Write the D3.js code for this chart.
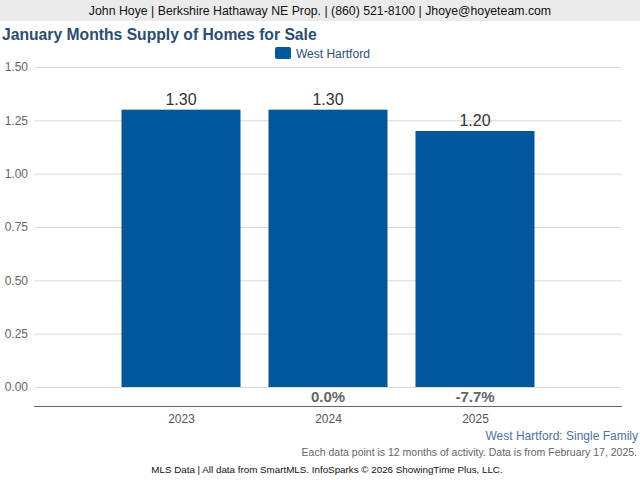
<html>
<head>
  <meta charset="UTF-8">
  <title>January Months Supply of Homes for Sale</title>
  <script src="https://cdn.jsdelivr.net/npm/d3@7"></script>
  <style>
    body { margin: 0; background: #fff; }
    text { font-family: "Liberation Sans", Arial, sans-serif; }
  </style>
</head>
<body>
<svg width="640" height="480"></svg>
<script>
var years = ["2023", "2024", "2025"];
var supply = [1.30, 1.30, 1.20];
var changes = ["", "0.0%", "-7.7%"];
var yTicks = [0, 0.25, 0.5, 0.75, 1.0, 1.25, 1.5];
var seriesName = "West Hartford";

var svg = d3.select("svg");
// note: "top" is taken by window.top, so use plotTop
var plotLeft = 34, plotRight = 622, plotTop = 67, zeroY = 387;
var barColor = "#00579c";

// header band
svg.append("rect").attr("x", 0).attr("y", 0).attr("width", 640).attr("height", 21).attr("fill", "#ebebeb");
svg.append("text").attr("x", 320).attr("y", 15).attr("text-anchor", "middle")
  .attr("font-size", 12.3).attr("fill", "#111")
  .text("John Hoye | Berkshire Hathaway NE Prop. | (860) 521-8100 | Jhoye@hoyeteam.com");

svg.append("text").attr("x", 2).attr("y", 40)
  .attr("font-size", 15.7).attr("font-weight", "bold").attr("fill", "#2a4d74")
  .text("January Months Supply of Homes for Sale");

// legend
svg.append("rect").attr("x", 275).attr("y", 47).attr("width", 16).attr("height", 12)
  .attr("rx", 2).attr("fill", barColor);
svg.append("text").attr("x", 296).attr("y", 58).attr("font-size", 12).attr("fill", "#2c4f78")
  .text(seriesName);

var y = d3.scaleLinear().domain([0, 1.5]).range([zeroY, plotTop]);
var x = d3.scalePoint().domain(years).range([plotLeft, plotRight]).padding(1);
var barW = 119;

// grid + y labels
var yAxis = svg.append("g").attr("transform", "translate(" + plotLeft + ",0)")
  .call(d3.axisLeft(y).tickValues(yTicks).tickFormat(d3.format(".2f"))
    .tickSize(-(plotRight - plotLeft)).tickPadding(6));
yAxis.select(".domain").remove();
yAxis.selectAll(".tick line").attr("stroke", "#d9d9d9");
yAxis.selectAll(".tick text").attr("font-size", 12).attr("fill", "#666")
  .attr("font-family", "Liberation Sans, Arial, sans-serif");

// bars
svg.selectAll(".bar").data(supply).enter().append("rect")
  .attr("x", function(d, i) { return x(years[i]) - barW / 2; })
  .attr("y", function(d) { return y(d); })
  .attr("width", barW)
  .attr("height", function(d) { return zeroY - y(d); })
  .attr("fill", barColor);

svg.selectAll(".val").data(supply).enter().append("text")
  .attr("x", function(d, i) { return x(years[i]); })
  .attr("y", function(d) { return y(d) - 5; })
  .attr("text-anchor", "middle").attr("font-size", 16).attr("fill", "#333")
  .text(function(d) { return d.toFixed(2); });

// x axis
var xAxis = svg.append("g").attr("transform", "translate(0,406)")
  .call(d3.axisBottom(x).tickSize(0).tickPadding(8));
xAxis.select(".domain").attr("stroke", "#666").attr("d", "M" + plotLeft + ",0.5H" + plotRight);
xAxis.selectAll(".tick text").attr("font-size", 12).attr("fill", "#555")
  .attr("font-family", "Liberation Sans, Arial, sans-serif");

svg.selectAll(".chg").data(changes).enter().append("text")
  .attr("x", function(d, i) { return x(years[i]); })
  .attr("y", 402)
  .attr("text-anchor", "middle").attr("font-size", 15).attr("font-weight", "bold").attr("fill", "#666")
  .text(function(d) { return d; });

// footer
svg.append("text").attr("x", 638).attr("y", 440).attr("text-anchor", "end")
  .attr("font-size", 12).attr("fill", "#4a72a6").text("West Hartford: Single Family");
svg.append("text").attr("x", 637).attr("y", 456).attr("text-anchor", "end")
  .attr("font-size", 10.5).attr("fill", "#666")
  .text("Each data point is 12 months of activity. Data is from February 17, 2025.");
svg.append("text").attr("x", 327).attr("y", 473).attr("text-anchor", "middle")
  .attr("font-size", 9.8).attr("fill", "#111")
  .text("MLS Data | All data from SmartMLS. InfoSparks \u00a9 2026 ShowingTime Plus, LLC.");
</script>
</body>
</html>
